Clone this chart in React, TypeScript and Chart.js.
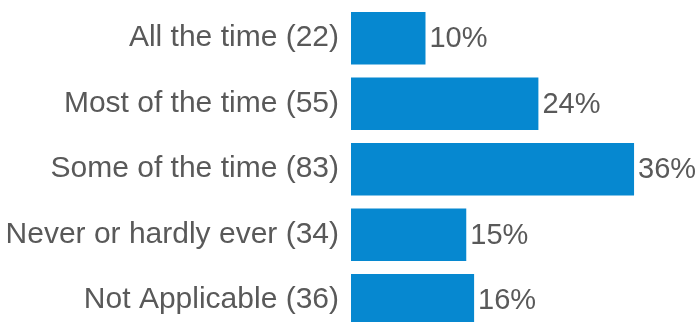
import React, { useEffect, useRef } from "react";
import { Chart, registerables } from "chart.js";

Chart.register(...registerables);

const categories = [
  "All the time (22)",
  "Most of the time (55)",
  "Some of the time (83)",
  "Never or hardly ever (34)",
  "Not Applicable (36)",
];
const percentValues = [9.5, 23.9, 36.1, 14.7, 15.7];
const valueLabels = ["10%", "24%", "36%", "15%", "16%"];

const BAR_COLOR = "#0688D0";
const TEXT_COLOR = "#595959";
const FONT_FAMILY = "'Liberation Sans', Arial, sans-serif";
const LABEL_FONT_SIZE = 30;
const VALUE_FONT_SIZE = 29;

export default function App() {
  const canvasRef = useRef<HTMLCanvasElement | null>(null);

  useEffect(() => {
    const canvas = canvasRef.current;
    if (!canvas) return;

    const valueLabelPlugin = {
      id: "valueLabels",
      afterDatasetsDraw(chart: any) {
        const ctx = chart.ctx;
        const meta = chart.getDatasetMeta(0);
        ctx.save();
        ctx.font = `${VALUE_FONT_SIZE}px ${FONT_FAMILY}`;
        ctx.fillStyle = TEXT_COLOR;
        ctx.textAlign = "left";
        ctx.textBaseline = "middle";
        meta.data.forEach((bar: any, i: number) => {
          ctx.fillText(valueLabels[i], bar.x + 4, bar.y + 1);
        });
        ctx.restore();
      },
    };

    const chart = new Chart(canvas, {
      type: "bar",
      data: {
        labels: categories,
        datasets: [
          {
            data: percentValues,
            backgroundColor: BAR_COLOR,
            borderWidth: 0,
            barPercentage: 0.8,
            categoryPercentage: 1,
          },
        ],
      },
      options: {
        indexAxis: "y",
        responsive: false,
        animation: false,
        layout: { padding: { top: 5.45, bottom: 7.05, left: 0, right: 0 } },
        plugins: {
          legend: { display: false },
          tooltip: { enabled: false },
        },
        scales: {
          x: {
            display: false,
            min: 0,
            max: 44,
          },
          y: {
            afterFit(scale: any) {
              scale.width = 351;
              scale.paddingTop = 0;
              scale.paddingBottom = 0;
            },
            grid: { display: false, drawTicks: false },
            border: { display: false },
            ticks: {
              color: TEXT_COLOR,
              font: { family: FONT_FAMILY, size: LABEL_FONT_SIZE },
              padding: 12,
            },
          },
        },
      },
      plugins: [valueLabelPlugin],
    });

    return () => chart.destroy();
  }, []);

  return (
    <div style={{ position: "fixed", left: 0, top: 0, width: 696, height: 340, background: "#fff" }}>
      <canvas ref={canvasRef} width={696} height={340} />
    </div>
  );
}
